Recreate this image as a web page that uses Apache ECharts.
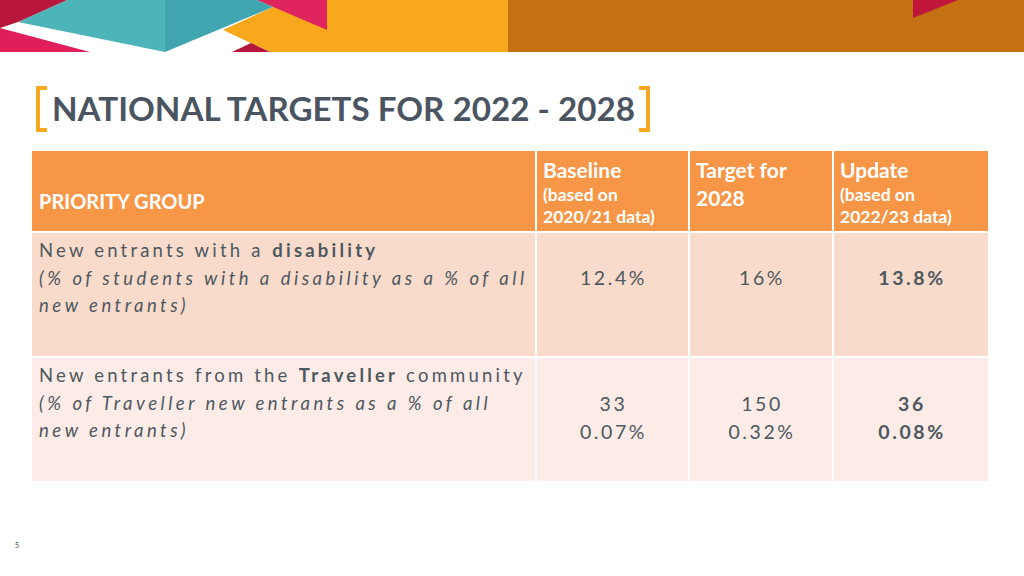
<!DOCTYPE html>
<html>
<head>
<meta charset="utf-8">
<script src="https://cdn.jsdelivr.net/npm/echarts@6/dist/echarts.min.js"></script>
<style>
html, body { margin: 0; padding: 0; background: #ffffff; }
#chart { width: 1024px; height: 576px; }
text[style*="trkA"] { letter-spacing: 3.2px; }
text[style*="trkB"] { letter-spacing: 2.6px; }
text[style*="trkC"] { letter-spacing: 3.5px; }
</style>
</head>
<body>
<div id="chart"></div>
<script>
// ---------- data ----------
const slideTitle = 'NATIONAL TARGETS FOR 2022 - 2028';
const firstHeader = 'PRIORITY GROUP';
const columnHeads = [['Baseline'], ['Target for', '2028'], ['Update']];
const columnNotes = [['(based on', '2020/21 data)'], [], ['(based on', '2022/23 data)']];
const groupLead = ['New entrants with a ', 'New entrants from the '];
const groupKey = ['disability', 'Traveller'];
const groupTail = ['', ' community'];
const groupNote = [
  ['(% of students with a disability as a % of all', 'new entrants)'],
  ['(% of Traveller new entrants as a % of all', 'new entrants)']
];
const baselineValues = [['12.4%'], ['33', '0.07%']];
const targetValues = [['16%'], ['150', '0.32%']];
const updateValues = [['13.8%'], ['36', '0.08%']];
const pageNumber = '5';

// ---------- layout ----------
const BODY = 'Lato, trkA';
const VAL = 'Lato, trkB';
const ITAL = 'Lato, trkC';
const HEAD = 'Lato';
const TRK = 3.2;
const TEXT_DARK = '#4d5860';
const colX = [32, 537, 690, 834];
const colW = [503, 151, 142, 154];
const rowY = [151, 233, 358];
const rowH = [80, 123, 123];
const rowFill = ['#f79646', '#f9dbcc', '#fcebe6'];

function measure(text, font, spacing) {
  const ctx = measure.ctx || (measure.ctx = document.createElement('canvas').getContext('2d'));
  ctx.font = font;
  if ('letterSpacing' in ctx) {
    ctx.letterSpacing = spacing + 'px';
    const w = ctx.measureText(text).width;
    ctx.letterSpacing = '0px';
    return w;
  }
  return ctx.measureText(text).width + text.length * spacing;
}

const el = [];
function poly(points, fill) {
  el.push({ type: 'polygon', silent: true, shape: { points }, style: { fill } });
}
function txt(text, x, y, font, fill, align) {
  el.push({
    type: 'text', silent: true, x, y,
    style: { text, font, fill, textAlign: align || 'left', textVerticalAlign: 'middle' }
  });
}

// banner decoration
el.push({ type: 'rect', silent: true, shape: { x: 508, y: 0, width: 516, height: 52 }, style: { fill: '#c47114' } });
poly([[257, 0], [508, 0], [508, 52], [270, 52], [223, 30], [273, 7]], '#f8a81c');
poly([[257, 0], [327, 0], [327, 30]], '#e0245e');
poly([[67, 0], [165, 0], [165, 52], [18, 22]], '#4db4b9');
poly([[165, 0], [257, 0], [273, 7], [165, 52]], '#40a5ae');
poly([[0, 0], [67, 0], [18, 22], [0, 28]], '#b8173b');
poly([[0, 28], [90, 52], [0, 52]], '#e01f5a');
poly([[232, 52], [270, 52], [251, 43]], '#b3163a');
poly([[913, 0], [958, 0], [913, 18]], '#c0163a');

// title with brackets
const bracket = '#f6a821';
el.push({ type: 'polyline', silent: true, shape: { points: [[47, 88], [38, 88], [38, 130], [47, 130]] }, style: { stroke: bracket, lineWidth: 4, fill: null } });
el.push({ type: 'polyline', silent: true, shape: { points: [[639, 88], [648, 88], [648, 130], [639, 130]] }, style: { stroke: bracket, lineWidth: 4, fill: null } });
txt(slideTitle, 52, 108, 'bold 33.2px ' + HEAD, '#4a5561');

// table cells
for (let r = 0; r < rowY.length; r++) {
  for (let c = 0; c < colX.length; c++) {
    el.push({ type: 'rect', silent: true, shape: { x: colX[c], y: rowY[r], width: colW[c], height: rowH[r] }, style: { fill: rowFill[r] } });
  }
}

// header texts
txt(firstHeader, 39, 201, 'bold 20px ' + HEAD, '#ffffff');
for (let c = 0; c < columnHeads.length; c++) {
  const x = colX[c + 1] + 6;
  columnHeads[c].forEach((s, i) => txt(s, x, 169 + i * 28, 'bold 21px ' + HEAD, '#ffffff'));
  columnNotes[c].forEach((s, i) => txt(s, x, 194 + i * 22, 'bold 17.5px ' + HEAD, '#ffffff'));
}

// group labels
const bodyFont = '18.5px ' + BODY;
const boldFont = 'bold 18.5px ' + BODY;
const italFont = 'italic 18.5px ' + ITAL;
for (let g = 0; g < groupLead.length; g++) {
  const y0 = rowY[g + 1] + 17;
  const x0 = 39;
  txt(groupLead[g].trim(), x0, y0, bodyFont, TEXT_DARK);
  const xk = x0 + measure(groupLead[g], bodyFont, TRK);
  txt(groupKey[g], xk, y0, boldFont, TEXT_DARK);
  if (groupTail[g]) {
    const xt = xk + measure(groupKey[g], boldFont, TRK) + measure(' ', bodyFont, TRK);
    txt(groupTail[g].trim(), xt, y0, bodyFont, TEXT_DARK);
  }
  groupNote[g].forEach((s, i) => txt(s, x0, y0 + 27.5 * (i + 1), italFont, TEXT_DARK));
}

// values
const valueCols = [baselineValues, targetValues, updateValues];
const valueFont = ['19.5px ' + VAL, '19.5px ' + VAL, 'bold 19.5px ' + VAL];
const valueCenter = [[277], [403, 431]];
for (let c = 0; c < valueCols.length; c++) {
  const cx = colX[c + 1] + colW[c + 1] / 2 + 1;
  valueCols[c].forEach((lines, r) => {
    lines.forEach((s, i) => txt(s, cx, valueCenter[r][i], valueFont[c], TEXT_DARK, 'center'));
  });
}

txt(pageNumber, 17, 545, '8px ' + HEAD, '#555555', 'center');

const chart = echarts.init(document.getElementById('chart'), null, { renderer: 'svg' });
chart.setOption({
  animation: false,
  backgroundColor: '#ffffff',
  graphic: { elements: el }
});
</script>
</body>
</html>
